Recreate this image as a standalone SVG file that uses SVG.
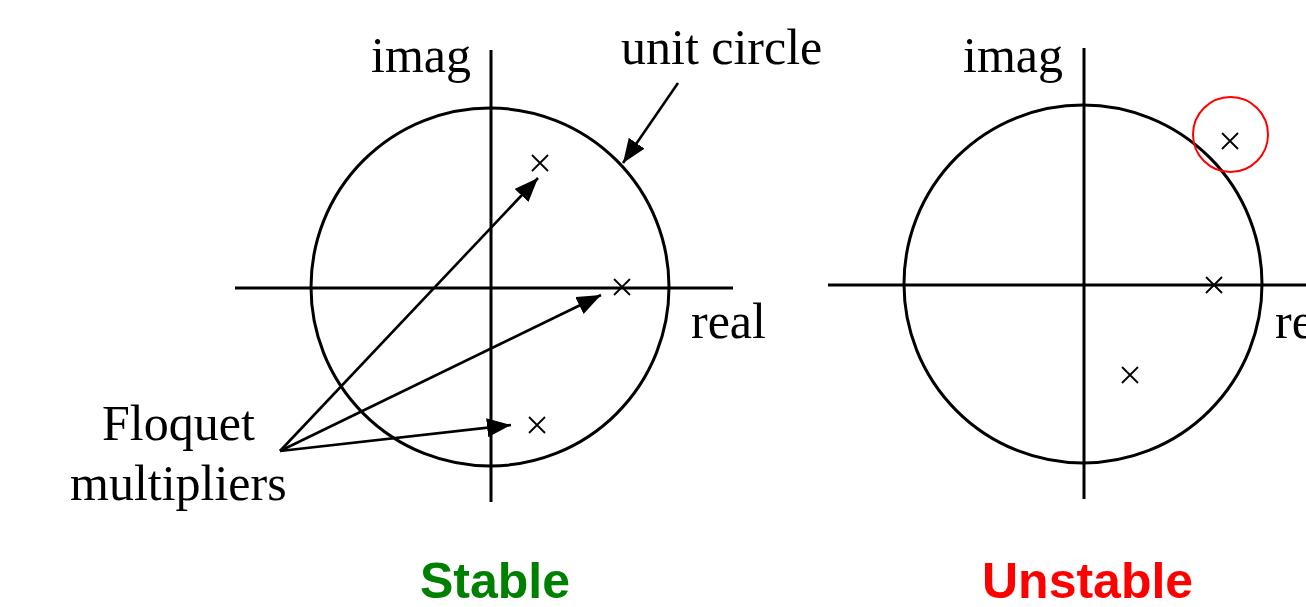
<svg xmlns="http://www.w3.org/2000/svg" width="1306" height="607" viewBox="0 0 1306 607">
<defs>
<marker id="arr" markerWidth="24" markerHeight="19" viewBox="0 0 24 19" refX="24" refY="9.5" orient="auto" markerUnits="userSpaceOnUse">
<path d="M0,0 L24,9.5 L0,19 Z" fill="#000"/>
</marker>
<style>
.ax{stroke:#000;stroke-width:3;fill:none}
.uc{stroke:#000;stroke-width:3;fill:none}
.xm{stroke:#000;stroke-width:1.8;fill:none}
.ar{stroke:#000;stroke-width:2.6;fill:none;marker-end:url(#arr)}
.lb{font-family:"Liberation Serif","Times New Roman",serif;font-size:50px;fill:#000}
.tt{font-family:"Liberation Sans",Arial,sans-serif;font-weight:bold;font-size:50px}
</style>
</defs>
<rect width="1306" height="607" fill="#fff"/>
<g id="stable-plane">
<line class="ax" x1="235" y1="288" x2="733" y2="288"/>
<line class="ax" x1="491" y1="50" x2="491" y2="502"/>
<circle class="uc" cx="490" cy="287" r="179"/>
<text class="lb" x="371" y="72">imag</text>
<text class="lb" x="691" y="338">real</text>
</g>
<g id="stable-multipliers">
<path class="xm" d="M532,155 L548,171 M548,155 L532,171"/>
<path class="xm" d="M614,279 L630,295 M630,279 L614,295"/>
<path class="xm" d="M529,417 L545,433 M545,417 L529,433"/>
</g>
<g id="label-unit-circle">
<text class="lb" x="621" y="64">unit circle</text>
</g>
<g id="label-floquet">
<text class="lb" x="102" y="440">Floquet</text>
<text class="lb" x="70" y="500">multipliers</text>
</g>
<g id="unstable-plane">
<line class="ax" x1="828" y1="285" x2="1306" y2="285"/>
<line class="ax" x1="1084" y1="48" x2="1084" y2="499"/>
<circle class="uc" cx="1083" cy="284" r="179"/>
<text class="lb" x="963" y="72">imag</text>
<text class="lb" x="1275" y="338">real</text>
</g>
<g id="unstable-multipliers">
<path class="xm" d="M1222,133 L1238,149 M1238,133 L1222,149"/>
<path class="xm" d="M1206,277 L1222,293 M1222,277 L1206,293"/>
<path class="xm" d="M1122,367 L1138,383 M1138,367 L1122,383"/>
<circle cx="1230.5" cy="134.5" r="37.5" fill="none" stroke="#f00" stroke-width="2"/>
</g>
<g id="connectors">
<line class="ar" x1="678" y1="83" x2="623" y2="163"/>
<line class="ar" x1="280" y1="451" x2="538" y2="178"/>
<line class="ar" x1="280" y1="451" x2="601" y2="295"/>
<line class="ar" x1="280" y1="451" x2="511" y2="425"/>
</g>
<g id="titles">
<text class="tt" x="420" y="598" fill="#008000">Stable</text>
<text class="tt" x="982" y="598" fill="#ff0000">Unstable</text>
</g>
</svg>
